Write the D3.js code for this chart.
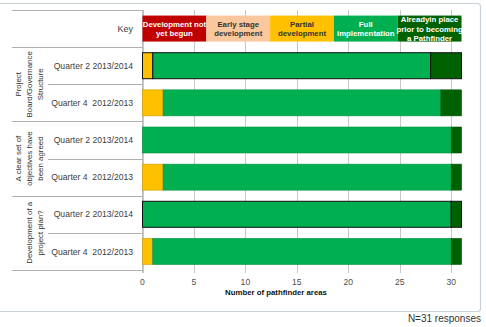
<!DOCTYPE html>
<html>
<head>
<meta charset="utf-8">
<script src="https://cdn.jsdelivr.net/npm/d3@7"></script>
<style>
  body { margin: 0; background: #fff; }
  svg text { font-family: "Liberation Sans", Arial, sans-serif; }
</style>
</head>
<body>
<script>
// key / categories
const stages = ["Development not yet begun", "Early stage development", "Partial development", "Full implementation", "Already in place prior to becoming a Pathfinder"];
const keyLines = [["Development not", "yet begun"], ["Early stage", "development"], ["Partial", "development"], ["Full", "implementation"], ["Alreadyin place", "prior to becoming", "a Pathfinder"]];
const groups = ["Project Board/Governance Structure", "A clear set of objectives have been agreed", "Development of a project plan?"];
const groupLines = [["Project", "Board/Governance", "Structure"], ["A clear set of", "objectives have", "been agreed"], ["Development of a", "project plan?"]];
const quarters = ["Quarter 2 2013/2014", "Quarter 4  2012/2013"];

// values per row, in stage order (number of pathfinder areas)
const values = [
  [0, 0, 1, 27, 3],
  [0, 0, 2, 27, 2],
  [0, 0, 0, 30, 1],
  [0, 0, 2, 28, 1],
  [0, 0, 0, 30, 1],
  [0, 0, 1, 29, 1]
];
const xTicks = [0, 5, 10, 15, 20, 25, 30];
const total = 31;

const colors = ["#c00000", "#fac89c", "#ffc000", "#00b050", "#006100"];
const keyText = ["#fff", "#333", "#333", "#fff", "#fff"];
const outlined = [0, 4]; // rows drawn with black edges

const w = 486, h = 327;
const svg = d3.select("body").append("svg").attr("width", w).attr("height", h);

// outer frame
svg.append("rect").attr("x", -2).attr("y", 3.5).attr("width", 482.5).attr("height", 308)
  .attr("rx", 3).attr("fill", "none").attr("stroke", "#c9d1d9").attr("stroke-width", 1.2);

const x = d3.scaleLinear().domain([0, total]).range([142.5, 461.5]);

const rows = [];
groups.forEach((g, gi) => quarters.forEach((q, qi) => rows.push({g: gi, q: qi, key: g + "|" + q})));
const y = d3.scaleBand().domain(["key"].concat(rows.map(r => r.key)))
  .range([10, 270]).paddingInner(0.3).paddingOuter(0.15);
const step = y.step();
const top0 = 10;

// gridlines
svg.append("g").selectAll("line").data(xTicks).join("line")
  .attr("x1", d => Math.round(x(d)) + 0.5).attr("x2", d => Math.round(x(d)) + 0.5)
  .attr("y1", top0).attr("y2", 273)
  .attr("stroke", "#c8c8c8").attr("stroke-width", 1);

// y axis line
svg.append("line").attr("x1", 142.5).attr("x2", 142.5).attr("y1", top0).attr("y2", 273)
  .attr("stroke", "#bdbdbd");

// left table lines
const rowTop = i => top0 + i * step;
svg.append("line").attr("x1", 12).attr("x2", 143).attr("y1", top0 + 0.5).attr("y2", top0 + 0.5).attr("stroke", "#b0b0b0");
for (let i = 1; i <= 7; i++) {
  const isGroup = (i % 2 === 1);
  svg.append("line").attr("x1", isGroup ? 12 : 48).attr("x2", 143)
    .attr("y1", Math.round(rowTop(i)) + 0.5).attr("y2", Math.round(rowTop(i)) + 0.5)
    .attr("stroke", "#b0b0b0");
}

// key row
const keyY = y("key");
let acc = 0;
const keyW = total / stages.length;
stages.forEach((s, i) => {
  const x0 = x(acc), x1 = x(acc + keyW);
  acc += keyW;
  svg.append("rect").attr("x", x0).attr("y", keyY).attr("width", x1 - x0).attr("height", y.bandwidth())
    .attr("fill", colors[i]);
  const lines = keyLines[i];
  const cy = keyY + y.bandwidth() / 2;
  const lh = 9.5;
  lines.forEach((ln, li) => {
    svg.append("text").attr("x", (x0 + x1) / 2)
      .attr("y", cy + (li - (lines.length - 1) / 2) * lh + 3)
      .attr("text-anchor", "middle").attr("font-size", 7.8).attr("font-weight", "bold")
      .attr("fill", keyText[i]).text(ln);
  });
});
svg.append("text").attr("x", 133).attr("y", keyY + y.bandwidth() / 2 + 3.5)
  .attr("text-anchor", "end").attr("font-size", 9).attr("fill", "#404040").text("Key");

// stacked bars
rows.forEach((r, ri) => {
  let s = 0;
  const black = outlined.includes(ri);
  values[ri].forEach((v, si) => {
    if (v > 0) {
      svg.append("rect").attr("x", x(s)).attr("y", y(r.key))
        .attr("width", x(s + v) - x(s)).attr("height", y.bandwidth())
        .attr("fill", colors[si])
        .attr("stroke", black ? "#111" : d3.color(colors[si]).darker(0.6))
        .attr("stroke-width", black ? 1 : 0.6);
    }
    s += v;
  });
  // quarter label
  svg.append("text").attr("x", 133).attr("y", y(r.key) + y.bandwidth() / 2 + 3.2)
    .attr("text-anchor", "end").attr("font-size", 8.6).attr("fill", "#404040")
    .attr("xml:space", "preserve").text(quarters[r.q]);
});

// group labels (rotated)
groupLines.forEach((lines, gi) => {
  const cy = rowTop(1 + gi * 2) + step;
  const lastX = 40, lh = 11;
  lines.forEach((ln, li) => {
    const tx = lastX - (lines.length - 1 - li) * lh + 3;
    svg.append("text").attr("transform", `translate(${tx},${cy}) rotate(-90)`)
      .attr("text-anchor", "middle").attr("font-size", 7.9).attr("fill", "#303030").text(ln);
  });
});

// x axis tick labels
svg.append("g").selectAll("text").data(xTicks).join("text")
  .attr("x", d => x(d)).attr("y", 285)
  .attr("text-anchor", "middle").attr("font-size", 8.6).attr("fill", "#505050").text(d => d);

svg.append("text").attr("x", 276).attr("y", 295).attr("text-anchor", "middle")
  .attr("font-size", 7.8).attr("font-weight", "bold").attr("fill", "#111").text("Number of pathfinder areas");

svg.append("text").attr("x", 481).attr("y", 322).attr("text-anchor", "end")
  .attr("font-size", 10).attr("fill", "#333").text("N=31 responses");
</script>
</body>
</html>
